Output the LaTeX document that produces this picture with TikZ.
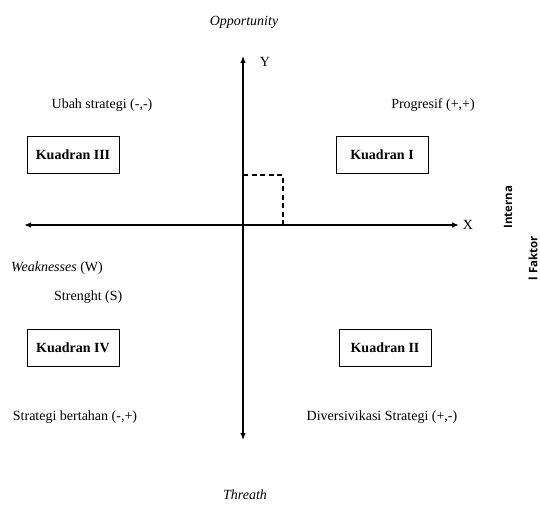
\documentclass[tikz,border=0pt]{standalone}
\usepackage{fontspec}
\setmainfont{Liberation Serif}
\newfontfamily\sidefont{Open Sans}
\usetikzlibrary{arrows.meta}
\begin{document}
\begin{tikzpicture}[x=1pt,y=-1pt,
  lbl/.style={font=\fontsize{14}{16}\selectfont, inner sep=0pt},
  quad/.style={draw, line width=0.8pt, minimum width=92pt, minimum height=37pt, inner sep=0pt,
    font=\fontsize{14}{16}\selectfont\bfseries},
  axis/.style={line width=1.3pt, -{Latex[length=7pt,width=5.5pt]}},
  side/.style={font=\sidefont\fontsize{11.5}{13}\selectfont\bfseries, rotate=90, inner sep=0pt}]
\useasboundingbox (0,0) rectangle (540,505);
% axis end points
\coordinate (o) at (243,225);
\coordinate (ytop) at (243,56);
\coordinate (ybot) at (243,440);
\coordinate (xl) at (24,225);
\coordinate (xr) at (459,225);
\coordinate (d1) at (243,175);
\coordinate (d2) at (283,175);
\coordinate (d3) at (283,225);
% axes
\draw[axis, line width=1.2pt] (o) -- (ytop);
\draw[axis, line width=1.2pt] (o) -- (ybot);
\draw[axis] (o) -- (xl);
\draw[axis] (o) -- (xr);
\draw[line width=1.4pt, dash pattern=on 5pt off 3.5pt] (d1) -- (d2) -- (d3);
% labels
\node[lbl] (opp) at (244,22) {\textit{Opportunity}};
\node[lbl] (thr) at (245,495) {\textit{Threath}};
\node[lbl] (ylab) at (265,62) {Y};
\node[lbl] (xlab) at (468,225) {X};
\node[lbl] (ubah) at (102,105) {Ubah strategi (-,-)};
\node[lbl] (prog) at (433,105) {Progresif (+,+)};
\node[lbl, anchor=west] (weak) at (11,268) {\textit{Weaknesses} (W)};
\node[lbl, anchor=west] (str) at (54,297) {Strenght (S)};
\node[lbl] (bert) at (75,417) {Strategi bertahan (-,+)};
\node[lbl] (div) at (382,417) {Diversivikasi Strategi (+,-)};
% quadrant boxes
\node[quad] (k3) at (73,154.5) {Kuadran III};
\node[quad] (k1) at (382,154.5) {Kuadran I};
\node[quad] (k4) at (73,348) {Kuadran IV};
\node[quad] (k2) at (385,348) {Kuadran II};
% side labels
\node[side] (int) at (508,207) {Interna};
\node[side] (fak) at (533,258) {l Faktor};
\end{tikzpicture}
\end{document}
